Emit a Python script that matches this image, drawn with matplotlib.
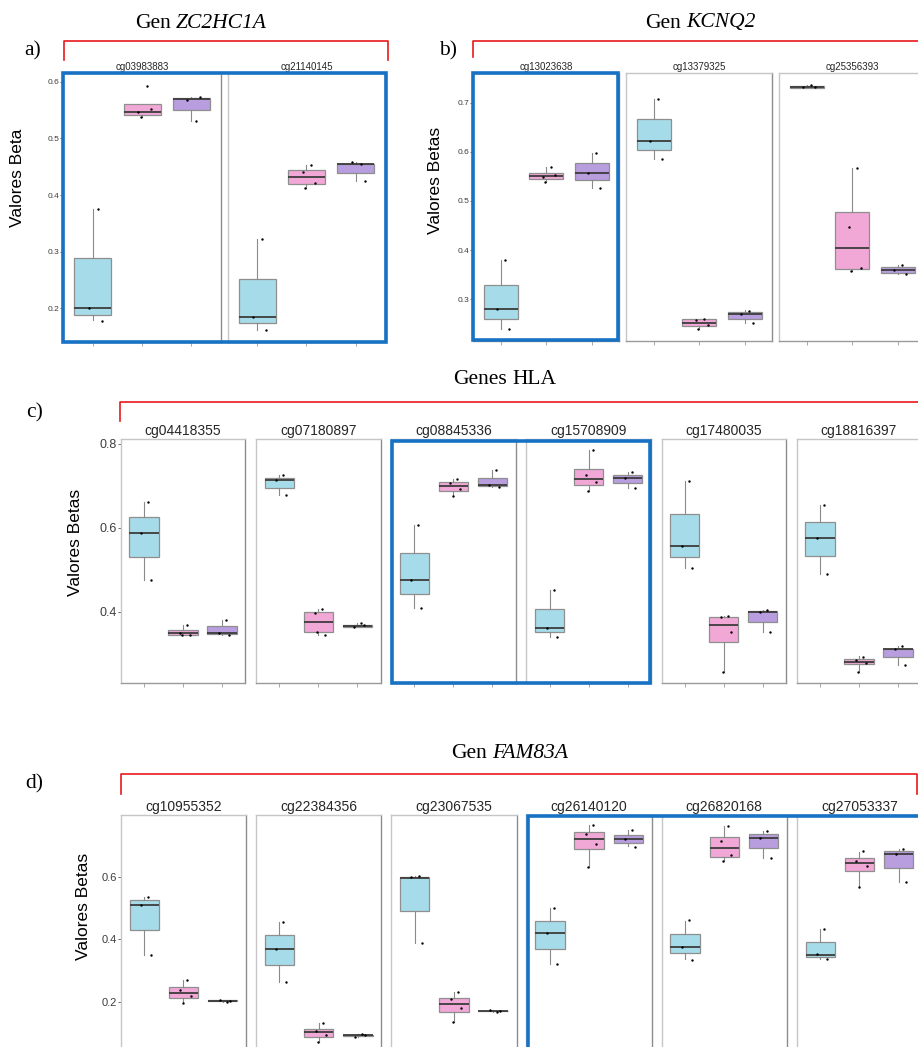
import matplotlib

matplotlib.use("Agg")

import matplotlib.pyplot as plt
from matplotlib.patches import Rectangle
from matplotlib.lines import Line2D

W, H = 918, 1047

plt.rcParams["font.family"] = ["Liberation Sans", "DejaVu Sans"]

GROUP_COLORS = ["#a6dce9", "#f2a8d6", "#b89ddf"]
JITTER = [0.1, -0.08, 0.18, -0.02]

# box stats per group: [whislo, q1, med, q3, whishi]
a_probes = ["cg03983883", "cg21140145"]
a_boxes = [
    [[0.179, 0.189, 0.200, 0.288, 0.376], [0.537, 0.542, 0.547, 0.560, 0.560], [0.531, 0.550, 0.569, 0.572, 0.573]],
    [[0.162, 0.174, 0.184, 0.252, 0.322], [0.412, 0.419, 0.431, 0.444, 0.453], [0.424, 0.439, 0.454, 0.455, 0.458]],
]
a_points = [
    [[0.376, 0.200, 0.178], [0.592, 0.547, 0.551, 0.537], [0.531, 0.567, 0.573]],
    [[0.322, 0.184, 0.162], [0.453, 0.440, 0.422, 0.412], [0.454, 0.458, 0.424]],
]

b_probes = ["cg13023638", "cg13379325", "cg25356393"]
b_boxes = [
    [[0.240, 0.259, 0.279, 0.329, 0.380], [0.538, 0.545, 0.551, 0.557, 0.570], [0.526, 0.542, 0.557, 0.578, 0.598]],
    [[0.585, 0.603, 0.621, 0.666, 0.708], [0.240, 0.245, 0.252, 0.259, 0.259], [0.251, 0.259, 0.269, 0.273, 0.277]],
    [[0.730, 0.730, 0.732, 0.735, 0.737], [0.358, 0.362, 0.405, 0.477, 0.568], [0.351, 0.354, 0.359, 0.365, 0.369]],
]
b_points = [
    [[0.380, 0.279, 0.240], [0.570, 0.549, 0.553, 0.538], [0.598, 0.557, 0.526]],
    [[0.708, 0.621, 0.585], [0.259, 0.257, 0.247, 0.240], [0.276, 0.269, 0.251]],
    [[0.737, 0.731, 0.732], [0.568, 0.446, 0.364, 0.358], [0.369, 0.359, 0.351]],
]

c_probes = ["cg04418355", "cg07180897", "cg08845336", "cg15708909", "cg17480035", "cg18816397"]
c_boxes = [
    [[0.476, 0.532, 0.587, 0.625, 0.662], [0.344, 0.344, 0.349, 0.356, 0.368], [0.344, 0.348, 0.351, 0.366, 0.382]],
    [[0.679, 0.696, 0.714, 0.719, 0.725], [0.345, 0.352, 0.375, 0.399, 0.408], [0.364, 0.364, 0.367, 0.370, 0.373]],
    [[0.409, 0.442, 0.477, 0.541, 0.606], [0.677, 0.688, 0.701, 0.710, 0.717], [0.698, 0.700, 0.702, 0.720, 0.738]],
    [[0.341, 0.352, 0.362, 0.406, 0.452], [0.688, 0.703, 0.717, 0.740, 0.786], [0.695, 0.707, 0.720, 0.725, 0.733]],
    [[0.504, 0.530, 0.556, 0.633, 0.712], [0.256, 0.329, 0.370, 0.387, 0.391], [0.353, 0.377, 0.399, 0.403, 0.405]],
    [[0.491, 0.533, 0.575, 0.615, 0.654], [0.256, 0.275, 0.282, 0.287, 0.295], [0.274, 0.292, 0.313, 0.313, 0.318]],
]
c_points = [
    [[0.663, 0.587, 0.476], [0.368, 0.351, 0.344, 0.345], [0.382, 0.349, 0.344]],
    [[0.725, 0.714, 0.679], [0.408, 0.397, 0.345, 0.353], [0.373, 0.365, 0.368]],
    [[0.606, 0.477, 0.409], [0.717, 0.708, 0.692, 0.677], [0.738, 0.703, 0.698]],
    [[0.452, 0.362, 0.341], [0.786, 0.725, 0.710, 0.688], [0.733, 0.720, 0.695]],
    [[0.712, 0.556, 0.504], [0.391, 0.387, 0.353, 0.256], [0.405, 0.399, 0.353]],
    [[0.654, 0.575, 0.491], [0.294, 0.286, 0.279, 0.256], [0.318, 0.313, 0.274]],
]

d_probes = ["cg10955352", "cg22384356", "cg23067535", "cg26140120", "cg26820168", "cg27053337"]
d_boxes = [
    [[0.350, 0.429, 0.510, 0.525, 0.536], [0.196, 0.214, 0.230, 0.247, 0.270], [0.201, 0.203, 0.204, 0.205, 0.206]],
    [[0.265, 0.317, 0.370, 0.413, 0.456], [0.073, 0.090, 0.103, 0.115, 0.132], [0.090, 0.093, 0.095, 0.096, 0.098]],
    [[0.389, 0.492, 0.596, 0.600, 0.603], [0.137, 0.169, 0.194, 0.214, 0.233], [0.169, 0.171, 0.172, 0.173, 0.175]],
    [[0.320, 0.369, 0.419, 0.459, 0.499], [0.632, 0.687, 0.719, 0.744, 0.764], [0.698, 0.709, 0.719, 0.733, 0.750]],
    [[0.336, 0.355, 0.375, 0.418, 0.460], [0.650, 0.663, 0.692, 0.726, 0.763], [0.659, 0.693, 0.725, 0.735, 0.747]],
    [[0.339, 0.345, 0.351, 0.392, 0.432], [0.568, 0.618, 0.643, 0.659, 0.680], [0.584, 0.629, 0.672, 0.681, 0.689]],
]
d_points = [
    [[0.536, 0.510, 0.350], [0.270, 0.240, 0.219, 0.196], [0.201, 0.206, 0.204]],
    [[0.456, 0.370, 0.265], [0.132, 0.109, 0.096, 0.073], [0.098, 0.090, 0.095]],
    [[0.603, 0.598, 0.389], [0.233, 0.211, 0.182, 0.137], [0.169, 0.175, 0.172]],
    [[0.499, 0.419, 0.320], [0.764, 0.735, 0.704, 0.632], [0.750, 0.719, 0.696]],
    [[0.461, 0.375, 0.335], [0.763, 0.715, 0.668, 0.650], [0.747, 0.725, 0.659]],
    [[0.433, 0.352, 0.339], [0.682, 0.650, 0.635, 0.568], [0.689, 0.672, 0.584]],
]


def fx(x):
    return x / W


def fy(y):
    return 1 - y / H


def px_axes(fig, x0, y0, x1, y1):
    return fig.add_axes([fx(x0), fy(y1), (x1 - x0) / W, (y1 - y0) / H])


def draw_facet(ax, boxes, points, ylim, yticks, show_y, tick_size, strip, strip_size, strip_pad):
    stats = []
    for lo, q1, med, q3, hi in boxes:
        stats.append({"whislo": lo, "q1": q1, "med": med, "q3": q3, "whishi": hi})
    parts = ax.bxp(
        stats,
        positions=[1, 2, 3],
        widths=0.75,
        patch_artist=True,
        showfliers=False,
        showcaps=False,
        boxprops=dict(edgecolor="#8f8f8f", linewidth=0.9),
        medianprops=dict(color="#3c3c3c", linewidth=1.3),
        whiskerprops=dict(color="#8a8a8a", linewidth=0.8),
    )
    for patch, col in zip(parts["boxes"], GROUP_COLORS):
        patch.set_facecolor(col)
    for i, vals in enumerate(points):
        xs = [i + 1 + JITTER[k % len(JITTER)] for k in range(len(vals))]
        ax.scatter(xs, vals, s=3, color="black", zorder=5, linewidths=0)

    ax.set_xlim(0.4, 3.6)
    ax.set_ylim(*ylim)
    ax.set_xticks([1, 2, 3])
    ax.set_xticklabels([])
    ax.tick_params(axis="x", length=3, width=0.6, color="#9a9a9a")
    ax.set_yticks(yticks)
    if show_y:
        ax.set_yticklabels([f"{t:.1f}" for t in yticks])
        ax.tick_params(axis="y", length=2, width=0.6, color="#555555",
                       labelsize=tick_size, labelcolor="#3d3d3d", pad=1)
    else:
        ax.tick_params(axis="y", length=0, labelleft=False)
    for side in ["left", "top"]:
        ax.spines[side].set_color("#c6c6c6")
    ax.spines["right"].set_color("#8c8c8c")
    ax.spines["bottom"].set_color("#9a9a9a")
    for sp in ax.spines.values():
        sp.set_linewidth(1.0)
    ax.set_title(strip, fontsize=strip_size, color="#262626", pad=strip_pad)


def draw_panel(fig, probes, boxes, points, x_start, step, width, y0, y1,
               ylim, yticks, tick_size, strip_size, strip_pad):
    for k, probe in enumerate(probes):
        left = x_start + k * step
        ax = px_axes(fig, left, y0, left + width, y1)
        draw_facet(ax, boxes[k], points[k], ylim, yticks, k == 0,
                   tick_size, probe, strip_size, strip_pad)


fig = plt.figure(figsize=(W / 100, H / 100), dpi=100)

draw_panel(fig, a_probes, a_boxes, a_points, 63.3, 164.4, 157.5, 73, 342,
           (0.1406, 0.6153), [0.2, 0.3, 0.4, 0.5, 0.6], 6, 7, 2)
draw_panel(fig, b_probes, b_boxes, b_points, 473.3, 153.0, 146.0, 72.7, 340.7,
           (0.2153, 0.7611), [0.3, 0.4, 0.5, 0.6, 0.7], 6, 7, 2)
draw_panel(fig, c_probes, c_boxes, c_points, 120.7, 135.2, 124.7, 439.3, 683.3,
           (0.2302, 0.8111), [0.4, 0.6, 0.8], 9, 10, 3)
draw_panel(fig, d_probes, d_boxes, d_points, 120.7, 135.2, 125.5, 814.7, 1052.5,
           (0.039, 0.798), [0.2, 0.4, 0.6], 8, 10, 3)

# y axis titles
for x, y, label in [(18, 178, "Valores Beta"), (436, 180, "Valores Betas"),
                    (75, 542, "Valores Betas"), (83, 906, "Valores Betas")]:
    fig.text(fx(x), fy(y), label, rotation=90, fontsize=12.5,
             ha="center", va="center", color="black")

# gene headers: plain prefix followed by italic gene symbol
serif = ["Liberation Serif", "DejaVu Serif"]
renderer = fig.canvas.get_renderer()
gap = 5.4
for x, y, prefix, gene in [(201, 23, "Gen", "ZC2HC1A"), (700, 23, "Gen", "KCNQ2"),
                           (505, 379, "Genes", "HLA"), (510, 753, "Gen", "FAM83A")]:
    t1 = fig.text(0, fy(y), prefix, fontsize=15.5, family=serif,
                  ha="left", va="center", color="black")
    t2 = fig.text(0, fy(y), gene, fontsize=15.5, family=serif,
                  style="normal" if gene == "HLA" else "italic",
                  ha="left", va="center", color="black")
    w1 = t1.get_window_extent(renderer).width
    w2 = t2.get_window_extent(renderer).width
    start = x - (w1 + gap + w2) / 2
    t1.set_x(fx(start))
    t2.set_x(fx(start + w1 + gap))

for x, y, label in [(33, 51, "a)"), (448, 51, "b)"), (35, 413, "c)"), (34, 784, "d)")]:
    fig.text(fx(x), fy(y), label, fontsize=15.5, family=serif,
             ha="center", va="center", color="black")

# red brackets over each gene
red = "#e8191c"
for xl, xr, ytop, ybot, right_leg in [(64.3, 388.3, 40.7, 60, True),
                                      (472.7, 930, 41.3, 56.7, False),
                                      (120, 930, 401.7, 420.7, False),
                                      (121, 917.3, 774, 794, True)]:
    xs = [fx(xl), fx(xl), fx(xr)]
    ys = [fy(ybot), fy(ytop), fy(ytop)]
    if right_leg:
        xs.append(fx(xr))
        ys.append(fy(ybot))
    fig.add_artist(Line2D(xs, ys, transform=fig.transFigure, color=red, linewidth=1.2))

# blue highlight frames
blue = "#1772c4"
for x0, y0, x1, y1 in [(63.3, 73.3, 385.7, 342.3), (473.3, 73, 617.7, 340.3),
                       (391.7, 441, 650, 682.7), (527.7, 816, 930, 1060)]:
    fig.add_artist(Rectangle((fx(x0), fy(y1)), (x1 - x0) / W, (y1 - y0) / H,
                             transform=fig.transFigure, fill=False,
                             edgecolor=blue, linewidth=2.6, zorder=10))

fig.savefig("out.png", dpi=100)
